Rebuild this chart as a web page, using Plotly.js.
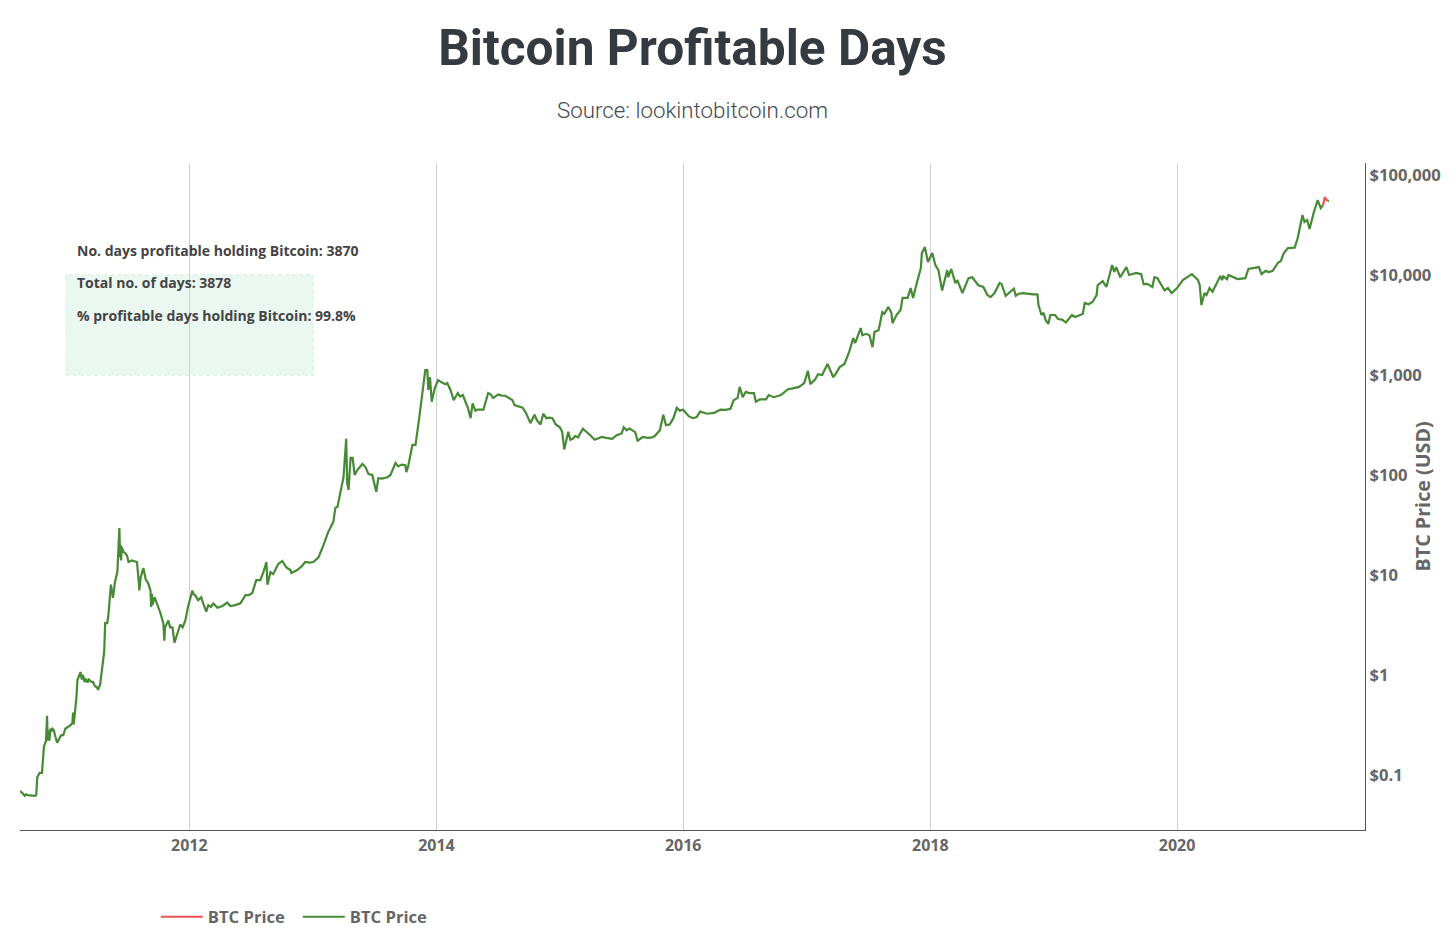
<!DOCTYPE html>
<html><head><meta charset="utf-8">
<script src="https://cdn.plot.ly/plotly-3.0.1.min.js"></script>
<style>html,body{margin:0;padding:0;background:#fff}</style></head>
<body><div id="chart" style="width:1456px;height:943px"></div>
<script>
const prices2010 = [["2010-08-18",0.069],["2010-08-22",0.068],["2010-08-25",0.066],["2010-09-01",0.062],["2010-09-05",0.064],["2010-09-10",0.063],["2010-09-20",0.062],["2010-10-01",0.062],["2010-10-05",0.063],["2010-10-08",0.095],["2010-10-15",0.105],["2010-10-22",0.105],["2010-10-28",0.195],["2010-11-03",0.22],["2010-11-06",0.39],["2010-11-08",0.22],["2010-11-10",0.28],["2010-11-13",0.22],["2010-11-16",0.29],["2010-11-20",0.28],["2010-11-22",0.29],["2010-11-26",0.28],["2010-12-01",0.24],["2010-12-06",0.21],["2010-12-12",0.23],["2010-12-18",0.25],["2010-12-24",0.25],["2010-12-30",0.29]];
const prices2011 = [["2011-01-05",0.3],["2011-01-12",0.31],["2011-01-20",0.33],["2011-01-22",0.42],["2011-01-24",0.32],["2011-01-29",0.45],["2011-02-01",0.6],["2011-02-04",0.89],["2011-02-10",1.0],["2011-02-13",1.07],["2011-02-17",0.9],["2011-02-20",1.0],["2011-02-22",0.95],["2011-02-25",0.85],["2011-03-01",0.92],["2011-03-06",0.84],["2011-03-10",0.9],["2011-03-16",0.86],["2011-03-22",0.85],["2011-03-28",0.77],["2011-04-02",0.76],["2011-04-06",0.71],["2011-04-12",0.8],["2011-04-18",1.1],["2011-04-24",1.7],["2011-04-27",3.3],["2011-05-03",3.3],["2011-05-06",3.8],["2011-05-10",5.5],["2011-05-14",8],["2011-05-20",5.9],["2011-05-26",8.5],["2011-06-02",10.7],["2011-06-05",16],["2011-06-08",29.5],["2011-06-10",15],["2011-06-12",20],["2011-06-13",14],["2011-06-15",19],["2011-06-20",17],["2011-06-25",16.6],["2011-07-01",15.5],["2011-07-05",13.5],["2011-07-15",14],["2011-07-22",13.7],["2011-07-30",13.5],["2011-08-05",8],["2011-08-06",7],["2011-08-10",9.5],["2011-08-18",11.7],["2011-08-25",9],["2011-09-01",8.3],["2011-09-08",7],["2011-09-10",4.8],["2011-09-12",6.5],["2011-09-14",5],["2011-09-20",6],["2011-09-28",5.1],["2011-10-07",4.2],["2011-10-16",3.3],["2011-10-19",2.2],["2011-10-21",3],["2011-10-31",3.5],["2011-11-05",3],["2011-11-12",3],["2011-11-18",2.1],["2011-11-25",2.5],["2011-12-05",3.2],["2011-12-12",3],["2011-12-20",3.5],["2011-12-28",4.8]];
const prices2012 = [["2012-01-10",7],["2012-01-14",6.4],["2012-01-18",6.3],["2012-01-27",5.6],["2012-02-05",6],["2012-02-11",5.2],["2012-02-20",4.3],["2012-02-26",5],["2012-03-05",4.8],["2012-03-12",5.2],["2012-03-24",4.7],["2012-04-08",4.9],["2012-04-22",5.3],["2012-05-01",4.9],["2012-05-16",5],["2012-05-31",5.2],["2012-06-15",6.3],["2012-06-25",6.3],["2012-07-05",6.6],["2012-07-17",8.9],["2012-07-29",8.9],["2012-08-07",10.7],["2012-08-16",13.5],["2012-08-19",8],["2012-08-28",10.7],["2012-09-05",10.2],["2012-09-20",12.9],["2012-10-02",13.8],["2012-10-14",11.9],["2012-10-26",11.2],["2012-10-29",10.5],["2012-11-15",11.2],["2012-11-28",12.2],["2012-12-09",13.5],["2012-12-22",13.3]];
const prices2013 = [["2013-01-02",13.5],["2013-01-17",15],["2013-02-01",20],["2013-02-15",27],["2013-03-02",34],["2013-03-08",47],["2013-03-14",48],["2013-03-23",68],["2013-04-01",95],["2013-04-09",230],["2013-04-12",83],["2013-04-16",71],["2013-04-22",148],["2013-04-28",148],["2013-05-04",100],["2013-05-12",112],["2013-05-27",129],["2013-06-05",120],["2013-06-14",102],["2013-06-25",100],["2013-07-07",68],["2013-07-13",93],["2013-07-24",92],["2013-08-09",95],["2013-08-18",100],["2013-09-02",132],["2013-09-10",122],["2013-09-20",127],["2013-10-01",125],["2013-10-04",107],["2013-10-10",125],["2013-10-22",200],["2013-10-31",200],["2013-11-09",330],["2013-11-20",660],["2013-11-23",830],["2013-11-29",1120],["2013-12-05",1120],["2013-12-08",710],["2013-12-13",950],["2013-12-18",540],["2013-12-27",740]];
const prices2014 = [["2014-01-06",890],["2014-01-15",850],["2014-01-27",810],["2014-02-02",830],["2014-02-12",700],["2014-02-21",560],["2014-03-05",660],["2014-03-12",610],["2014-03-20",630],["2014-04-04",470],["2014-04-12",370],["2014-04-18",520],["2014-04-26",440],["2014-05-02",450],["2014-05-20",450],["2014-06-03",660],["2014-06-10",640],["2014-06-18",590],["2014-07-03",640],["2014-07-14",620],["2014-07-24",620],["2014-08-05",585],["2014-08-14",560],["2014-08-20",500],["2014-09-05",480],["2014-09-13",470],["2014-09-24",410],["2014-10-06",330],["2014-10-18",400],["2014-10-26",350],["2014-11-05",320],["2014-11-13",410],["2014-11-22",370],["2014-12-01",375],["2014-12-10",370],["2014-12-20",320]];
const prices2015 = [["2015-01-01",300],["2015-01-08",270],["2015-01-14",180],["2015-01-20",220],["2015-01-26",270],["2015-02-01",225],["2015-02-08",230],["2015-02-15",245],["2015-02-24",238],["2015-03-10",290],["2015-03-22",270],["2015-04-01",250],["2015-04-14",225],["2015-04-24",232],["2015-05-05",240],["2015-05-18",235],["2015-06-05",230],["2015-06-18",250],["2015-07-03",260],["2015-07-09",300],["2015-07-18",280],["2015-07-26",292],["2015-08-04",280],["2015-08-12",268],["2015-08-19",220],["2015-08-28",230],["2015-09-04",240],["2015-09-18",235],["2015-10-01",238],["2015-10-09",245],["2015-10-24",280],["2015-11-03",400],["2015-11-11",315],["2015-11-22",320],["2015-12-03",370],["2015-12-13",470],["2015-12-22",440]];
const prices2016 = [["2016-01-01",450],["2016-01-13",410],["2016-01-18",385],["2016-01-30",370],["2016-02-10",380],["2016-02-20",430],["2016-03-01",420],["2016-03-12",410],["2016-04-01",418],["2016-04-20",450],["2016-05-05",448],["2016-05-20",460],["2016-05-29",560],["2016-06-10",590],["2016-06-16",760],["2016-06-25",600],["2016-07-04",680],["2016-07-14",660],["2016-07-28",660],["2016-08-03",540],["2016-08-15",570],["2016-09-02",570],["2016-09-10",630],["2016-09-25",600],["2016-10-16",630],["2016-11-06",720],["2016-11-20",735],["2016-12-09",760],["2016-12-24",830]];
const prices2017 = [["2017-01-04",1100],["2017-01-11",810],["2017-01-25",900],["2017-02-03",1020],["2017-02-15",1000],["2017-03-03",1290],["2017-03-10",1150],["2017-03-20",950],["2017-03-28",1040],["2017-04-08",1200],["2017-04-22",1290],["2017-05-06",1700],["2017-05-18",2340],["2017-05-24",2090],["2017-06-09",2950],["2017-06-14",2500],["2017-06-25",2580],["2017-07-05",2500],["2017-07-14",1900],["2017-07-20",2700],["2017-08-01",2800],["2017-08-12",4270],["2017-08-18",4100],["2017-08-30",4800],["2017-09-08",4170],["2017-09-11",3300],["2017-09-23",3980],["2017-10-05",4470],["2017-10-11",5900],["2017-10-26",5900],["2017-11-04",7400],["2017-11-11",5900],["2017-11-22",8300],["2017-12-04",11700],["2017-12-07",16600],["2017-12-16",19000],["2017-12-25",13500]];
const prices2018 = [["2018-01-07",16600],["2018-01-16",12600],["2018-01-25",11200],["2018-02-05",7000],["2018-02-20",11200],["2018-02-23",9500],["2018-03-04",11500],["2018-03-16",8300],["2018-03-22",8900],["2018-04-06",6600],["2018-04-15",7900],["2018-04-24",9300],["2018-05-05",9500],["2018-05-23",7900],["2018-06-07",7600],["2018-06-19",6300],["2018-06-28",6000],["2018-07-10",6600],["2018-07-25",8300],["2018-07-31",8100],["2018-08-12",6200],["2018-08-25",6700],["2018-09-05",7300],["2018-09-11",6200],["2018-09-20",6500],["2018-10-02",6600],["2018-10-15",6500],["2018-11-02",6400],["2018-11-14",6400],["2018-11-17",5000],["2018-11-26",3980],["2018-12-02",4200],["2018-12-08",3550],["2018-12-16",3240],["2018-12-22",3980]];
const prices2019 = [["2019-01-05",3980],["2019-01-14",3630],["2019-01-26",3580],["2019-02-06",3350],["2019-02-24",3980],["2019-03-05",3800],["2019-03-28",4070],["2019-04-03",5250],["2019-04-14",5100],["2019-04-26",5370],["2019-05-08",6300],["2019-05-11",7900],["2019-05-26",8700],["2019-06-06",7600],["2019-06-23",12600],["2019-06-29",10700],["2019-07-05",12000],["2019-07-17",9500],["2019-08-04",12000],["2019-08-12",10000],["2019-09-02",10500],["2019-09-17",10200],["2019-09-24",8100],["2019-10-05",8150],["2019-10-20",7600],["2019-10-26",9500],["2019-11-04",9300],["2019-11-25",7000],["2019-12-05",7400],["2019-12-16",6600]];
const prices2020 = [["2020-01-01",7400],["2020-01-18",8900],["2020-02-14",10200],["2020-03-03",8900],["2020-03-08",7900],["2020-03-13",5000],["2020-03-22",6600],["2020-03-28",6300],["2020-04-06",7400],["2020-04-15",6800],["2020-05-08",9800],["2020-05-13",8900],["2020-05-17",9700],["2020-05-28",9100],["2020-06-01",10000],["2020-06-28",9100],["2020-07-21",9300],["2020-07-30",11500],["2020-08-30",12000],["2020-09-07",10200],["2020-09-19",11000],["2020-09-28",10700],["2020-10-10",11000],["2020-10-25",13200],["2020-11-03",13800],["2020-11-12",16600],["2020-11-24",18600],["2020-12-14",18800],["2020-12-23",23400]];
const prices2021 = [["2021-01-06",39800],["2021-01-12",33900],["2021-01-20",35500],["2021-01-27",28800],["2021-02-08",41700],["2021-02-20",56000],["2021-03-01",46800],["2021-03-08",50000]];
const pricesEnd = [["2021-03-22",55000],["2021-03-25",55000]];
const redDates = ["2021-03-08","2021-03-13","2021-03-17","2021-03-22"];
const redPrices = [50000,60000,57000,55000];
const yearTicks = ["2012-01-01","2014-01-01","2016-01-01","2018-01-01","2020-01-01"];
const yearLabels = ["2012","2014","2016","2018","2020"];
const priceTicks = [0.1,1,10,100,1000,10000,100000];
const priceLabels = ["$0.1","$1","$10","$100","$1,000","$10,000","$100,000"];
const statLines = ["No. days profitable holding Bitcoin: 3870","Total no. of days: 3878","% profitable days holding Bitcoin: 99.8%"];
const statLevels = [4.25,3.93,3.60];

const green=[...prices2010,...prices2011,...prices2012,...prices2013,...prices2014,...prices2015,...prices2016,...prices2017,...prices2018,...prices2019,...prices2020,...prices2021,[null,null],...pricesEnd];
const grey="#666666", dark="#343a40";
const traces=[
 {x:redDates,y:redPrices,type:"scatter",mode:"lines",name:"BTC Price",line:{color:"#e8544f",width:2.2}},
 {x:green.map(p=>p[0]),y:green.map(p=>p[1]),type:"scatter",mode:"lines",name:"BTC Price",line:{color:"#478a35",width:2.2},connectgaps:false}
];
const annotations=statLines.map((t,i)=>({text:t,xref:"x",yref:"y",x:"2011-01-28",y:statLevels[i],xanchor:"left",yanchor:"middle",showarrow:false,align:"left",font:{family:"Open Sans",size:14,color:"#444444",weight:700}}));
annotations.push({text:"Source: lookintobitcoin.com",xref:"paper",yref:"paper",x:0.5,y:1.0795,xanchor:"center",yanchor:"middle",showarrow:false,font:{family:"Roboto",size:22.3,color:"#444b52",weight:300}});
annotations.push({text:"BTC Price (USD)",xref:"paper",yref:"paper",x:1.0431,y:0.5,xanchor:"center",yanchor:"middle",textangle:-90,showarrow:false,font:{family:"Open Sans",size:19.7,color:grey,weight:700}});
const layout={
 width:1456,height:943,
 margin:{l:20,r:91,t:163,b:113,pad:0},
 paper_bgcolor:"#fff",plot_bgcolor:"#fff",
 title:{text:"Bitcoin Profitable Days",font:{family:"Roboto",size:49.6,color:dark,weight:700},x:0.5,xref:"paper",xanchor:"center",y:0.949,yref:"container",yanchor:"middle"},
 xaxis:{type:"date",range:["2010-08-18","2021-07-10"],tickvals:yearTicks,ticktext:yearLabels,tickfont:{family:"Open Sans",size:16,color:grey,weight:700},ticklabelstandoff:1,showgrid:true,gridcolor:"#d0d0d0",gridwidth:1.4,zeroline:false,showline:true,linecolor:"#555555",linewidth:1.3,ticks:""},
 yaxis:{type:"log",side:"right",range:[-1.55,5.12],tickvals:priceTicks,ticktext:priceLabels,tickfont:{family:"Open Sans",size:16.6,color:grey,weight:700},showgrid:false,zeroline:false,showline:true,linecolor:"#555555",linewidth:1.3,ticks:""},
 shapes:[{type:"rect",xref:"x",yref:"y",x0:"2011-01-01",x1:"2013-01-01",y0:1000,y1:10000,fillcolor:"#ebf8f2",line:{color:"#e2f5ec",width:2,dash:"4px,3px"},layer:"below"}],
 annotations,
 showlegend:true,
 legend:{orientation:"h",x:0.101,xanchor:"left",xref:"paper",yref:"container",y:0.0276,yanchor:"middle",itemwidth:42,entrywidth:85,entrywidthmode:"pixels",font:{family:"Open Sans",size:16.6,color:grey,weight:700},bgcolor:"rgba(0,0,0,0)"}
};
Plotly.newPlot("chart",traces,layout,{displayModeBar:false,responsive:false});
</script></body></html>
